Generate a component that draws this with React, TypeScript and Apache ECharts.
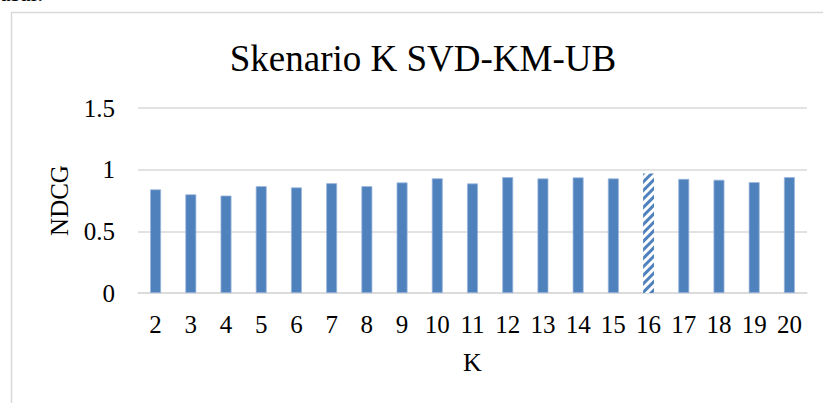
import React, { useEffect, useRef } from "react";
import * as echarts from "echarts";

const categories = ["2","3","4","5","6","7","8","9","10","11","12","13","14","15","16","17","18","19","20"];
const ndcgValues = [0.84,0.80,0.79,0.866,0.856,0.89,0.866,0.896,0.93,0.888,0.94,0.929,0.937,0.929,0.969,0.925,0.918,0.899,0.94];
const highlightedK = "16";
const yTicks = { min: 0, max: 1.5, interval: 0.5 };
const titleText = "Skenario K SVD-KM-UB";
const xName = "K";
const yName = "NDCG";
const aboveText = "asar.";

const FONT = "'Liberation Serif', 'Times New Roman', serif";
const BLUE = "#4F81BD";

export default function App() {
  const ref = useRef<HTMLDivElement>(null);
  useEffect(() => {
    if (!ref.current) return;
    const chart = echarts.init(ref.current, null, { renderer: "svg" });
    const data = ndcgValues.map((v, i) => {
      if (categories[i] === highlightedK) {
        return {
          value: v,
          itemStyle: {
            color: "#ffffff",
            borderWidth: 0,
            decal: {
              symbol: "rect",
              symbolSize: 1,
              dashArrayX: [1, 0],
              dashArrayY: [2.5, 2.5],
              rotation: -Math.PI / 4,
              color: BLUE,
            },
          },
        };
      }
      return v;
    });
    chart.setOption({
      animation: false,
      backgroundColor: "#ffffff",
      title: {
        text: titleText,
        left: 418,
        top: 35,
        textAlign: "center",
        textStyle: { fontFamily: FONT, fontSize: 37, fontWeight: "normal", color: "#000" },
      },
      graphic: [
        {
          type: "rect",
          shape: { x: 11.5, y: 12.5, width: 900, height: 500 },
          style: { fill: "none", stroke: "#d9d9d9", lineWidth: 1.5 },
          silent: true,
        },
        {
          type: "text",
          x: 0,
          y: -19,
          style: { text: aboveText, font: `24px ${FONT}`, fill: "#000" },
          silent: true,
        },
      ],
      grid: { left: 138, right: 16, top: 108, bottom: 110 },
      xAxis: {
        type: "category",
        data: categories,
        name: xName,
        nameLocation: "middle",
        nameGap: 56,
        nameTextStyle: { fontFamily: FONT, fontSize: 26, color: "#000" },
        axisTick: { show: false },
        axisLine: { lineStyle: { color: "#d9d9d9", width: 1.5 } },
        axisLabel: { fontFamily: FONT, fontSize: 25, color: "#000", margin: 19, interval: 0 },
      },
      yAxis: {
        type: "value",
        min: yTicks.min,
        max: yTicks.max,
        interval: yTicks.interval,
        name: yName,
        nameLocation: "middle",
        nameGap: 66,
        nameTextStyle: { fontFamily: FONT, fontSize: 25, color: "#000" },
        axisLine: { show: false },
        axisTick: { show: false },
        axisLabel: { fontFamily: FONT, fontSize: 25, color: "#000", margin: 23 },
        splitLine: { lineStyle: { color: "#d9d9d9", width: 1.5 } },
      },
      series: [
        {
          type: "bar",
          data,
          barWidth: "31%",
          itemStyle: { color: BLUE, borderColor: "#9db8dc", borderWidth: 0.75 },
        },
      ],
    });
    return () => chart.dispose();
  }, []);
  return (
    <div
      ref={ref}
      style={{ position: "fixed", left: 0, top: 0, width: 823, height: 403 }}
    />
  );
}
